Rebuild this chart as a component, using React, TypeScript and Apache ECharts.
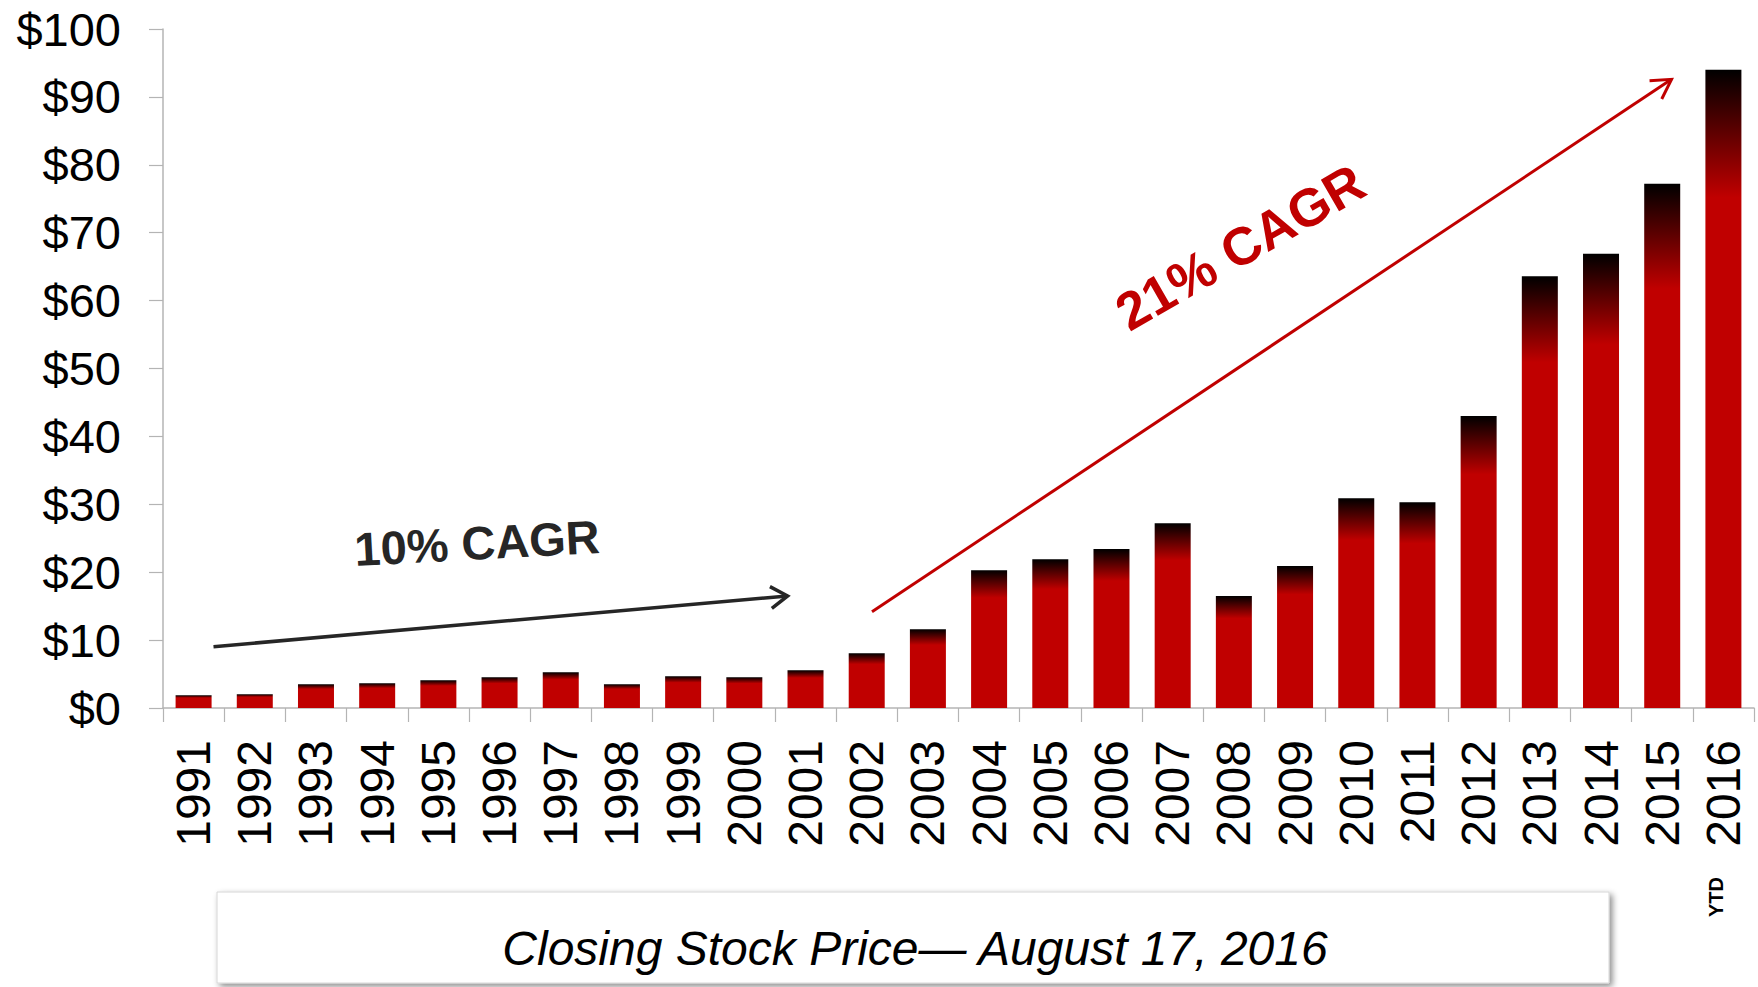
import React, { useEffect, useRef } from "react";
import * as echarts from "echarts";

const years = [
  "1991", "1992", "1993", "1994", "1995", "1996", "1997", "1998", "1999", "2000",
  "2001", "2002", "2003", "2004", "2005", "2006", "2007", "2008", "2009", "2010",
  "2011", "2012", "2013", "2014", "2015", "2016",
];
const closingPrices = [
  1.87, 2.02, 3.49, 3.65, 4.08, 4.52, 5.26, 3.49, 4.67, 4.52,
  5.55, 8.06, 11.6, 20.3, 21.9, 23.4, 27.2, 16.5, 20.9, 30.9,
  30.3, 43.0, 63.6, 66.9, 77.2, 94.0,
];
const yMin = 0;
const yMax = 100;
const yStep = 10;
const captionText = "Closing Stock Price\u2014 August 17, 2016";
const leftNote = "10% CAGR";
const rightNote = "21% CAGR";
const ytdNote = "YTD";

const FONT = "'Liberation Sans', Arial, Helvetica, sans-serif";
const RED = "#C00000";
const DARK = "#262626";

function arrowHead(x1: number, y1: number, x2: number, y2: number, len: number, deg: number) {
  const a = Math.atan2(y1 - y2, x1 - x2);
  const r = (deg * Math.PI) / 180;
  return [
    [x2 + len * Math.cos(a + r), y2 + len * Math.sin(a + r)],
    [x2, y2],
    [x2 + len * Math.cos(a - r), y2 + len * Math.sin(a - r)],
  ];
}

export default function App() {
  const ref = useRef<HTMLDivElement>(null);

  useEffect(() => {
    document.body.style.margin = "0";
    if (!ref.current) return;
    const chart = echarts.init(ref.current, undefined, { renderer: "svg" });

    const bA = { x1: 213.5, y1: 646.7, x2: 787.6, y2: 596 };
    const rA = { x1: 872, y1: 611.7, x2: 1671.5, y2: 79.3 };

    chart.setOption({
      animation: false,
      backgroundColor: "#ffffff",
      grid: { left: 163, right: 4, top: 29, bottom: 279, containLabel: false },
      xAxis: {
        type: "category",
        data: years,
        boundaryGap: true,
        axisLine: { show: true, lineStyle: { color: "#B4B4B4", width: 1.5 } },
        axisTick: { show: true, alignWithLabel: false, length: 14, lineStyle: { color: "#B4B4B4", width: 1.2 } },
        axisLabel: {
          rotate: 90,
          margin: 32,
          fontSize: 48,
          color: "#000",
          fontFamily: FONT,
          interval: 0,
        },
      },
      yAxis: {
        type: "value",
        min: yMin,
        max: yMax,
        interval: yStep,
        splitLine: { show: false },
        axisLine: { show: true, lineStyle: { color: "#B4B4B4", width: 1.5 } },
        axisTick: { show: true, length: 14, lineStyle: { color: "#B4B4B4", width: 1.2 } },
        axisLabel: {
          margin: 42,
          fontSize: 47,
          color: "#000",
          fontFamily: FONT,
          formatter: (v: number) => "$" + v,
        },
      },
      series: [
        {
          type: "bar",
          data: closingPrices,
          barWidth: 36,
          itemStyle: {
            color: new echarts.graphic.LinearGradient(0, 0, 0, 1, [
              { offset: 0, color: "#000000" },
              { offset: 0.2, color: RED },
              { offset: 1, color: RED },
            ]),
          },
        },
      ],
      graphic: [
        {
          type: "line",
          shape: bA,
          style: { stroke: DARK, lineWidth: 3.5 },
        },
        {
          type: "polyline",
          shape: { points: arrowHead(bA.x1, bA.y1, bA.x2, bA.y2, 20, 33) },
          style: { stroke: DARK, lineWidth: 3.5, fill: "none" },
        },
        {
          type: "line",
          shape: rA,
          style: { stroke: RED, lineWidth: 3 },
        },
        {
          type: "polyline",
          shape: { points: arrowHead(rA.x1, rA.y1, rA.x2, rA.y2, 22, 30) },
          style: { stroke: RED, lineWidth: 3, fill: "none" },
        },
        {
          type: "text",
          x: 477,
          y: 543,
          rotation: (3.1 * Math.PI) / 180,
          style: {
            text: leftNote,
            fill: DARK,
            font: `bold 47px ${FONT}`,
            textAlign: "center",
            textVerticalAlign: "middle",
          },
        },
        {
          type: "text",
          x: 1240,
          y: 247,
          rotation: (30 * Math.PI) / 180,
          style: {
            text: rightNote,
            fill: RED,
            font: `bold 53px ${FONT}`,
            textAlign: "center",
            textVerticalAlign: "middle",
          },
        },
        {
          type: "text",
          x: 1716,
          y: 897,
          rotation: Math.PI / 2,
          style: {
            text: ytdNote,
            fill: "#000",
            font: `bold 20px ${FONT}`,
            textAlign: "center",
            textVerticalAlign: "middle",
          },
        },
        {
          type: "rect",
          shape: { x: 217, y: 892, width: 1392, height: 91 },
          style: {
            fill: "#ffffff",
            stroke: "#D6D6D6",
            lineWidth: 1,
            shadowBlur: 6,
            shadowOffsetX: 3,
            shadowOffsetY: 3,
            shadowColor: "rgba(0,0,0,0.45)",
          },
        },
        {
          type: "text",
          x: 915,
          y: 948,
          style: {
            text: captionText,
            fill: "#000",
            font: `italic 48px ${FONT}`,
            textAlign: "center",
            textVerticalAlign: "middle",
          },
        },
      ],
    });

    return () => chart.dispose();
  }, []);

  return (
    <div
      ref={ref}
      style={{ position: "absolute", left: 0, top: 0, width: 1758, height: 987 }}
    />
  );
}
